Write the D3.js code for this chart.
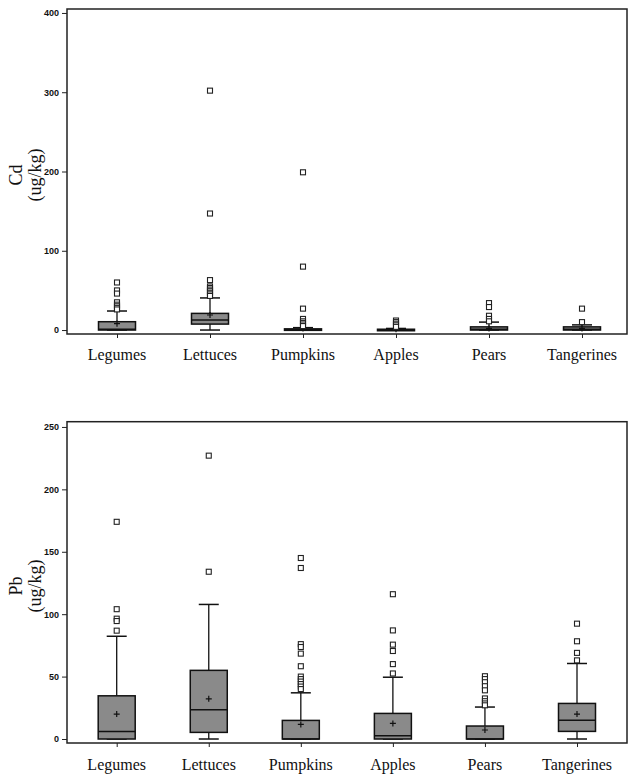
<!DOCTYPE html>
<html>
<head>
<meta charset="utf-8">
<script src="https://cdn.jsdelivr.net/npm/d3@7"></script>
<style>
  html, body { margin: 0; padding: 0; background: #fff; }
  svg { display: block; }
</style>
</head>
<body>
<svg id="chart" width="628" height="777"></svg>
<script>
// ---- Data ----
const categories = ["Legumes", "Lettuces", "Pumpkins", "Apples", "Pears", "Tangerines"];

// Cd (ug/kg)
const cdQ1 = [0, 7.5, 0, 0, 0, 0];
const cdMedian = [1, 12.6, 0.5, 0.3, 1, 1];
const cdQ3 = [10.5, 21, 1.5, 1, 4, 4];
const cdMean = [8, 19, 2, 1, 2, 2];
const cdWhiskerLow = [0, 0, 0, 0, 0, 0];
const cdWhiskerHigh = [24, 40.5, 3, 2, 10, 6.5];
const cdOutliers = [
  [60, 50, 46, 35, 32, 30, 28, 26],
  [302, 147, 63, 55, 53, 51, 49, 47, 45, 43],
  [199, 80, 27, 14, 11, 9, 7, 5],
  [12, 10, 8, 6, 4],
  [34, 29, 18, 14, 11],
  [27, 10]
];
const cdTicks = [0, 100, 200, 300, 400];

// Pb (ug/kg)
const pbQ1 = [0, 5.3, 0, 0, 0, 6.1];
const pbMedian = [6.1, 23.4, 0, 2.7, 0, 15];
const pbQ3 = [34.6, 55, 14.9, 20.5, 10.4, 28.5];
const pbMean = [20, 32.2, 11.7, 12.5, 7.2, 20];
const pbWhiskerLow = [0, 0, 0, 0, 0, 0];
const pbWhiskerHigh = [82.3, 107.8, 37, 49.5, 25.6, 60.5];
const pbOutliers = [
  [174, 104, 96.4, 94.5, 86.8],
  [227, 134],
  [145, 137, 76, 73.7, 68.4, 58.3, 50, 48, 46, 44, 42, 40],
  [116, 87, 75.6, 70.5, 60, 52.5],
  [50.3, 48, 45.5, 42.3, 39, 32.5, 30.3, 28.5, 27],
  [92.4, 78.3, 69, 63]
];
const pbTicks = [0, 50, 100, 150, 200, 250];

// ---- Drawing ----
const svg = d3.select("#chart");

function panel(cfg) {
  const g = svg.append("g");
  const x = d3.scalePoint().domain(categories).range(cfg.xRange);
  const y = d3.scaleLinear().domain(cfg.yDomain).range([cfg.bottom, cfg.top]);
  const left = cfg.left, right = cfg.right;

  // frame
  g.append("rect")
    .attr("x", left).attr("y", cfg.top)
    .attr("width", right - left).attr("height", cfg.bottom - cfg.top)
    .attr("fill", "none").attr("stroke", "#222").attr("stroke-width", 1.5);

  // y axis
  const ya = g.append("g").attr("transform", `translate(${left},0)`)
    .call(d3.axisLeft(y).tickValues(cfg.ticks).tickSize(5).tickPadding(3).tickFormat(d3.format("d")));
  ya.select(".domain").remove();
  ya.selectAll("line").attr("stroke", "#222").attr("stroke-width", 1);
  ya.selectAll("text")
    .attr("font-family", "'Liberation Sans Narrow', 'Arial Narrow', 'Liberation Sans', sans-serif")
    .attr("font-weight", "bold").attr("font-size", 9).attr("fill", "#111");

  // x axis
  const xa = g.append("g").attr("transform", `translate(0,${cfg.bottom})`)
    .call(d3.axisBottom(x).tickSize(4).tickFormat(""));
  xa.select(".domain").remove();
  xa.selectAll("line").attr("stroke", "#222").attr("stroke-width", 1);

  // x labels
  g.selectAll("text.xlab").data(categories).enter().append("text")
    .attr("class", "xlab")
    .attr("x", d => x(d)).attr("y", cfg.labelY)
    .attr("text-anchor", "middle")
    .attr("font-family", "'Liberation Serif', 'Times New Roman', serif")
    .attr("font-size", 16).attr("fill", "#111")
    .text(d => d);

  // y title
  const yt = g.append("g");
  yt.append("text")
    .attr("transform", `translate(22,${cfg.titleY}) rotate(-90)`)
    .attr("text-anchor", "middle")
    .attr("font-family", "'Liberation Serif', 'Times New Roman', serif")
    .attr("font-size", 18).attr("fill", "#111")
    .text(cfg.title);
  yt.append("text")
    .attr("transform", `translate(41,${cfg.titleY}) rotate(-90)`)
    .attr("text-anchor", "middle")
    .attr("font-family", "'Liberation Serif', 'Times New Roman', serif")
    .attr("font-size", 18).attr("fill", "#111")
    .text("(ug/kg)");

  const bw = 37, cap = 20;
  categories.forEach((c, i) => {
    const cx = x(c);
    const bg = g.append("g");
    // whisker lines
    bg.append("line").attr("x1", cx).attr("x2", cx)
      .attr("y1", y(cfg.q3[i])).attr("y2", y(cfg.wHi[i]))
      .attr("stroke", "#111").attr("stroke-width", 1.3);
    bg.append("line").attr("x1", cx).attr("x2", cx)
      .attr("y1", y(cfg.q1[i])).attr("y2", y(cfg.wLo[i]))
      .attr("stroke", "#111").attr("stroke-width", 1.3);
    bg.append("line").attr("x1", cx - cap / 2).attr("x2", cx + cap / 2)
      .attr("y1", y(cfg.wHi[i])).attr("y2", y(cfg.wHi[i]))
      .attr("stroke", "#111").attr("stroke-width", 1.5);
    bg.append("line").attr("x1", cx - cap / 2).attr("x2", cx + cap / 2)
      .attr("y1", y(cfg.wLo[i])).attr("y2", y(cfg.wLo[i]))
      .attr("stroke", "#111").attr("stroke-width", 1.5);
    // box
    const yTop = y(cfg.q3[i]), yBot = y(cfg.q1[i]);
    bg.append("rect")
      .attr("x", cx - bw / 2).attr("y", yTop)
      .attr("width", bw).attr("height", Math.max(yBot - yTop, 1.5))
      .attr("fill", "#8a8a8a").attr("stroke", "#111").attr("stroke-width", 1.5);
    // median
    bg.append("line").attr("x1", cx - bw / 2).attr("x2", cx + bw / 2)
      .attr("y1", y(cfg.med[i])).attr("y2", y(cfg.med[i]))
      .attr("stroke", "#111").attr("stroke-width", 1.5);
    // mean +
    const my = y(cfg.mean[i]);
    bg.append("path")
      .attr("d", `M${cx - 3},${my}H${cx + 3}M${cx},${my - 3}V${my + 3}`)
      .attr("stroke", "#111").attr("stroke-width", 1.2).attr("fill", "none");
    // outliers
    bg.selectAll("rect.out").data(cfg.out[i]).enter().append("rect")
      .attr("class", "out")
      .attr("x", cx - 2.5).attr("y", d => y(d) - 2.5)
      .attr("width", 5).attr("height", 5)
      .attr("fill", "#fff").attr("stroke", "#222").attr("stroke-width", 1.1);
  });
}

panel({
  left: 67, right: 627, top: 9, bottom: 334,
  yDomain: [-5, 405], ticks: cdTicks, xRange: [117, 582],
  labelY: 360, title: "Cd", titleY: 175,
  q1: cdQ1, med: cdMedian, q3: cdQ3, mean: cdMean,
  wLo: cdWhiskerLow, wHi: cdWhiskerHigh, out: cdOutliers
});

panel({
  left: 67, right: 627, top: 421.7, bottom: 743,
  yDomain: [-3.2, 254.2], ticks: pbTicks, xRange: [116.7, 577],
  labelY: 770, title: "Pb", titleY: 586,
  q1: pbQ1, med: pbMedian, q3: pbQ3, mean: pbMean,
  wLo: pbWhiskerLow, wHi: pbWhiskerHigh, out: pbOutliers
});
</script>
</body>
</html>
